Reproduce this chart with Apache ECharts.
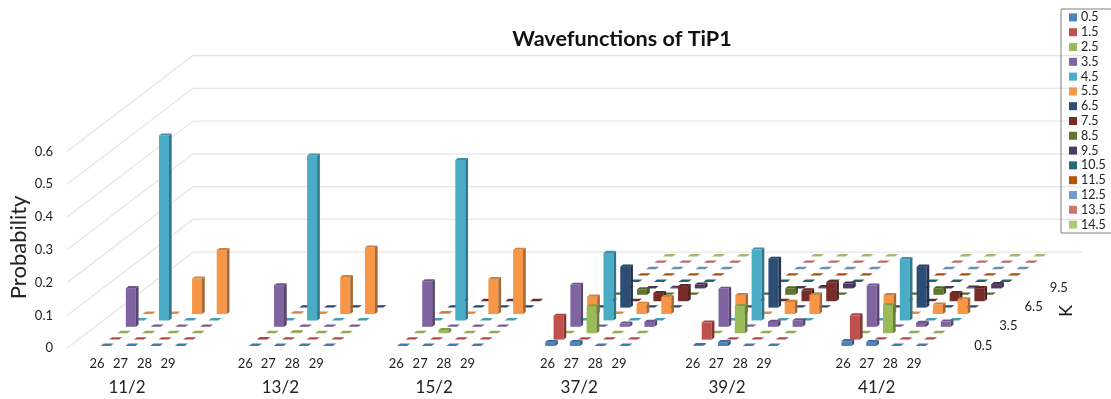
<!DOCTYPE html>
<html><head><meta charset="utf-8">
<style>html,body{margin:0;padding:0;background:#fff}#c{width:1111px;height:399px}</style>
<script src="https://cdn.jsdelivr.net/npm/echarts@6/dist/echarts.min.js"></script>
</head><body><div id="c"></div>
<script>
const titleText = 'Wavefunctions of TiP1';
const groupNames = ['11/2','13/2','15/2','37/2','39/2','41/2'];
const columnNames = ['26','27','28','29'];
const kNames = ['0.5','1.5','2.5','3.5','4.5','5.5','6.5','7.5','8.5','9.5','10.5','11.5','12.5','13.5','14.5'];
const kTickLabels = ['0.5','3.5','6.5','9.5'];
const yTicks = [0,0.1,0.2,0.3,0.4,0.5,0.6];
const colors = ['#4F81BD','#C0504D','#9BBB59','#8064A2','#4BACC6','#F79646','#2C4D75','#772C2A','#5F7530','#4D3B62','#276A7C','#B65708','#729ACA','#CD7371','#AFC97A'];
const _ = null;
// each array: 6 groups x 4 columns (26,27,28,29)
const k0_5  = [0,0,0,0, 0,0,0,0, 0,0,0,0, .012,.012,0,0, .003,.012,0,0, .015,.012,0,0];
const k1_5  = [0,0,0,0, .002,0,0,0, 0,0,0,0, .073,0,0,0, .052,0,0,0, .074,0,0,0];
const k2_5  = [0,0,0,0, 0,.003,0,0, 0,.01,0,0, 0,.082,0,0, 0,.083,0,0, 0,.085,0,0];
const k3_5  = [.118,0,0,0, .127,0,0,0, .139,0,0,0, .128,0,.01,.015, .116,0,.015,.02, .126,0,.012,.016];
const k4_5  = [0,.564,0,0, 0,.503,0,0, 0,.489,0,0, 0,.206,0,0, 0,.216,0,0, 0,.187,0,0];
const k5_5  = [0,0,.108,.195, .002,0,.113,.203, .003,0,.107,.196, .053,0,.031,.052, .058,0,.037,.058, .058,0,.029,.045];
const k6_5  = [_,_,_,_, 0,0,0,0, 0,0,0,0, 0,.125,0,0, 0,.149,0,0, 0,.125,0,0];
const k7_5  = [_,_,_,_, _,_,_,_, 0,0,0,0, 0,0,.025,.046, 0,0,.033,.058, 0,0,.025,.04];
const k8_5  = [_,_,_,_, _,_,_,_, _,_,_,_, 0,.017,0,0, 0,.02,0,0, 0,.02,0,0];
const k9_5  = [_,_,_,_, _,_,_,_, _,_,_,_, 0,0,.002,.012, 0,0,.004,.015, 0,0,.003,.013];
const k10_5 = [_,_,_,_, _,_,_,_, _,_,_,_, 0,0,0,0, 0,0,0,0, 0,0,0,0];
const k11_5 = [_,_,_,_, _,_,_,_, _,_,_,_, 0,0,0,0, 0,0,0,0, 0,0,0,0];
const k12_5 = [_,_,_,_, _,_,_,_, _,_,_,_, 0,0,0,0, 0,0,0,0, 0,0,0,0];
const k13_5 = [_,_,_,_, _,_,_,_, _,_,_,_, 0,0,0,0, 0,0,0,0, 0,0,0,0];
const k14_5 = [_,_,_,_, _,_,_,_, _,_,_,_, 0,0,0,0, 0,0,0,0, 0,0,0,0];
const kValues = [k0_5,k1_5,k2_5,k3_5,k4_5,k5_5,k6_5,k7_5,k8_5,k9_5,k10_5,k11_5,k12_5,k13_5,k14_5];

// hand-set label anchors in x-axis units (the source figure's labels are hand placed)
const tickAnchors = [-0.235,0.72,1.69,2.64, 5.77,6.70,7.67,8.64, 11.88,12.85,13.81,14.77, 18.01,18.97,19.94,20.90, 23.89,24.84,25.81,26.77, 29.98,30.94,31.89,32.85];
const groupAnchors = [0.98,7.19,13.42,19.29,25.28,31.34];

const FONT = 'Lato';
const xMin = -1.45, xMax = 34.55;
const DX = 8.4, DY = 6.4, DEPTH = 15;   // oblique floor projection, px per K row
const BAR_W = 0.405, SIDE_D = 0.32, FLAT_D = 0.38;

function shade(hex, f){
  const n = parseInt(hex.slice(1),16);
  const c = [n>>16&255,n>>8&255,n&255].map(v=>Math.round(v*f));
  return 'rgb('+c.join(',')+')';
}
const poly = (pts, fill) => ({type:'polygon', shape:{points:pts}, style:{fill:fill}, silent:true});

function barRenderer(row){
  return function(params, api){
    const slot = api.value(0), v = api.value(1);
    const d0 = row + 0.5 - SIDE_D/2;
    const ox = DX*d0, oy = -DY*d0;
    const a = api.coord([slot-BAR_W/2, 0]), b = api.coord([slot+BAR_W/2, 0]);
    const t = api.coord([slot, v]);
    const x0 = a[0]+ox, x1 = b[0]+ox, yb = a[1]+oy, yt = t[1]+oy;
    const sx = DX*SIDE_D, sy = -DY*SIDE_D;
    const base = colors[row];
    const kids = [];
    if (v > 0.0005) {
      kids.push(poly([[x0,yb],[x1,yb],[x1,yt],[x0,yt]], base));
      kids.push(poly([[x1,yb],[x1+sx,yb+sy],[x1+sx,yt+sy],[x1,yt]], shade(base,.68)));
      kids.push(poly([[x0,yt],[x1,yt],[x1+sx,yt+sy],[x0+sx,yt+sy]], shade(base,.85)));
    } else {
      const fx = DX*FLAT_D, fy = -DY*FLAT_D;
      kids.push(poly([[x0,yt],[x1,yt],[x1+fx,yt+fy],[x0+fx,yt+fy]], shade(base,.92)));
    }
    return {type:'group', children:kids};
  };
}

const barSeries = kNames.map((name,row)=>({
  name, type:'custom', coordinateSystem:'cartesian2d', xAxisIndex:0, yAxisIndex:0,
  z: 40-row, silent:true, clip:false,
  itemStyle:{color:colors[row]},
  encode:{x:0,y:1},
  data: kValues[row].map((v,i)=>v===null?null:[Math.floor(i/4)*6 + i%4, v]).filter(Boolean),
  renderItem: barRenderer(row)
}));

const wallSeries = {
  name:'walls', type:'custom', coordinateSystem:'cartesian2d', xAxisIndex:0, yAxisIndex:0,
  z:1, silent:true, clip:false, encode:{x:0,y:1},
  data: yTicks.map(v=>[xMin,v]),
  renderItem(params, api){
    const p = api.coord([xMin, api.value(1)]), q = api.coord([xMax, api.value(1)]);
    const bx = DX*DEPTH, by = -DY*DEPTH;
    return {type:'polyline', silent:true,
      shape:{points:[p,[p[0]+bx,p[1]+by],[q[0]+bx,q[1]+by]]},
      style:{stroke:'#e6e6e6', lineWidth:1.3, fill:null}};
  }
};

const kLabelSeries = {
  name:'kLabels', type:'custom', coordinateSystem:'cartesian2d', xAxisIndex:0, yAxisIndex:0,
  z:50, silent:true, clip:false, encode:{x:0,y:1},
  data: kTickLabels.map(k=>[xMax,0,kNames.indexOf(k)]),
  renderItem(params, api){
    const p = api.coord([xMax,0]), row = api.value(2), d = row+0.5;
    return {type:'text', silent:true, x:p[0]+DX*d+23, y:p[1]-DY*d+0.5,
      style:{text:kNames[row], font:'13px '+FONT, fill:'#222', align:'center', verticalAlign:'middle'}};
  }
};

function lookup(anchors, names){
  return v => {
    let best = 0;
    anchors.forEach((a,i)=>{ if (Math.abs(a-v) < Math.abs(anchors[best]-v)) best = i; });
    return names[best];
  };
}
const tickNames = groupNames.flatMap(()=>columnNames);

const option = {
  animation:false,
  backgroundColor:'#fff',
  textStyle:{fontFamily:FONT},
  title:{text:titleText, left:617, top:23, textAlign:'center',
    textStyle:{fontFamily:FONT, fontSize:21.6, fontWeight:'bold', color:'#111'}},
  legend:{
    orient:'vertical', left:1061, top:9, data:kNames, icon:'rect',
    itemWidth:8, itemHeight:8, itemGap:0, padding:[1,9,1,8],
    borderColor:'#7f7f7f', borderWidth:1, backgroundColor:'transparent',
    selectedMode:false, align:'left',
    textStyle:{fontFamily:FONT, fontSize:12.5, color:'#222', padding:[0,0,0,-1], lineHeight:14.8, height:14.8}
  },
  grid:{left:67, top:151.5, width:889, height:196.7, containLabel:false, outerBoundsMode:'none'},
  xAxis:[
    {type:'value', min:xMin, max:xMax, position:'bottom',
      axisLine:{show:false}, axisTick:{show:false}, splitLine:{show:false},
      axisLabel:{show:true, customValues:tickAnchors, margin:9, fontFamily:FONT, fontSize:13, color:'#222',
        showMinLabel:true, showMaxLabel:true, hideOverlap:false, formatter:lookup(tickAnchors,tickNames)}},
    {type:'value', min:xMin, max:xMax, position:'bottom', offset:31,
      axisLine:{show:false}, axisTick:{show:false}, splitLine:{show:false},
      axisLabel:{show:true, customValues:groupAnchors, margin:0, fontFamily:FONT, fontSize:17, color:'#222',
        hideOverlap:false, formatter:lookup(groupAnchors,groupNames)}}
  ],
  yAxis:{type:'value', min:0, max:0.6, interval:0.1,
    name:'Probability', nameLocation:'middle', nameGap:37, nameRotate:90, nameMoveOverlap:false,
    nameTextStyle:{fontFamily:FONT, fontSize:22, color:'#222', padding:[0,0,0,5]},
    axisLine:{show:false}, axisTick:{show:false}, splitLine:{show:false},
    axisLabel:{fontFamily:FONT, fontSize:13, color:'#222', margin:14, formatter:v=>String(+v.toFixed(1))}},
  graphic:[{type:'text', x:1066, y:311, rotation:Math.PI/2, silent:true,
    style:{text:'K', font:'18px '+FONT, fill:'#111', align:'center', verticalAlign:'middle'}}],
  series:[wallSeries, kLabelSeries].concat(barSeries)
};
echarts.init(document.getElementById('c'),null,{renderer:'canvas'}).setOption(option);
</script>
</body></html>
